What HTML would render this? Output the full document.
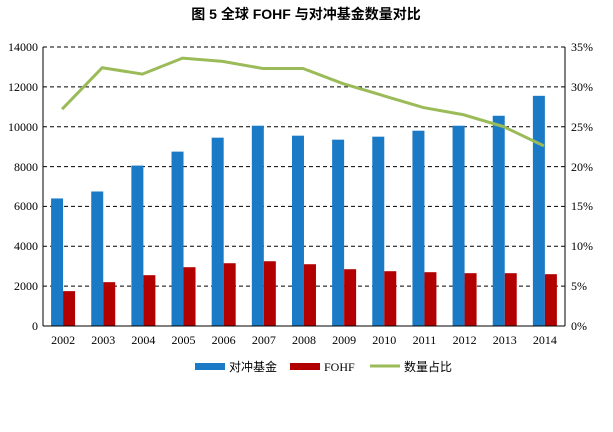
<!DOCTYPE html><html><head><meta charset="utf-8"><style>body{margin:0;background:#fff}</style></head><body>
<svg width="613" height="427" xmlns="http://www.w3.org/2000/svg" font-family="'Liberation Serif','Noto Serif CJK SC',serif">
<text x="306" y="19" text-anchor="middle" font-size="14" font-weight="bold" font-family="'Liberation Sans','Noto Sans CJK SC',sans-serif">图 5 全球 FOHF 与对冲基金数量对比</text>
<g stroke="#000" stroke-dasharray="4,3" stroke-width="1">
<line x1="43" x2="565" y1="47" y2="47"/><line x1="43" x2="565" y1="86.9" y2="86.9"/><line x1="43" x2="565" y1="126.7" y2="126.7"/><line x1="43" x2="565" y1="166.6" y2="166.6"/><line x1="43" x2="565" y1="206.4" y2="206.4"/><line x1="43" x2="565" y1="246.3" y2="246.3"/><line x1="43" x2="565" y1="286.1" y2="286.1"/>
</g>
<g id="bars"></g>
<line x1="43" y1="47" x2="43" y2="326" stroke="#000"/>
<line x1="565" y1="47" x2="565" y2="326" stroke="#000"/>
<line x1="43" y1="326" x2="565" y2="326" stroke="#000"/>
<g font-size="12" text-anchor="end">
<text x="38" y="51">14000</text><text x="38" y="91">12000</text><text x="38" y="131">10000</text><text x="38" y="171">8000</text><text x="38" y="210">6000</text><text x="38" y="250">4000</text><text x="38" y="290">2000</text><text x="38" y="330">0</text>
</g>
<g font-size="12">
<text x="571" y="51">35%</text><text x="571" y="91">30%</text><text x="571" y="131">25%</text><text x="571" y="171">20%</text><text x="571" y="210">15%</text><text x="571" y="250">10%</text><text x="571" y="290">5%</text><text x="571" y="330">0%</text>
</g>
<g id="x" font-size="12" text-anchor="middle"></g>
<polyline id="ln" fill="none" stroke="#9bbb59" stroke-width="3"/>
<rect x="195" y="363" width="30" height="7" fill="#1a7ac6"/>
<text x="229" y="371" font-size="12" font-family="'Liberation Sans','Noto Sans CJK SC',sans-serif">对冲基金</text>
<rect x="290" y="363" width="30" height="7" fill="#b20000"/>
<text x="324" y="371" font-size="12">FOHF</text>
<line x1="370" y1="366" x2="400" y2="366" stroke="#9bbb59" stroke-width="3"/>
<text x="404" y="371" font-size="12" font-family="'Liberation Sans','Noto Sans CJK SC',sans-serif">数量占比</text>
</svg>
<script>
var b=[6400,6750,8050,8750,9450,10050,9550,9350,9500,9800,10050,10550,11550],r=[1750,2200,2550,2950,3150,3250,3100,2850,2750,2700,2650,2650,2600],p=[27.2,32.4,31.6,33.6,33.2,32.3,32.3,30.4,28.9,27.4,26.5,25,22.6];
var ns="http://www.w3.org/2000/svg",g=document.getElementById("bars"),xg=document.getElementById("x"),pts=[];
function y(v){return 326-v*279/14000}
for(var i=0;i<13;i++){var c=43+40.15*(i+0.5);
var a=document.createElementNS(ns,"rect");a.setAttribute("x",c-12);a.setAttribute("width",12);a.setAttribute("y",y(b[i]));a.setAttribute("height",326-y(b[i]));a.setAttribute("fill","#1a7ac6");g.appendChild(a);
var d=document.createElementNS(ns,"rect");d.setAttribute("x",c);d.setAttribute("width",12);d.setAttribute("y",y(r[i]));d.setAttribute("height",326-y(r[i]));d.setAttribute("fill","#b20000");g.appendChild(d);
var t=document.createElementNS(ns,"text");t.setAttribute("x",c);t.setAttribute("y",344);t.textContent=2002+i;xg.appendChild(t);
pts.push((c-1)+","+(326-p[i]/35*279));}
document.getElementById("ln").setAttribute("points",pts.join(" "));
</script></body></html>
